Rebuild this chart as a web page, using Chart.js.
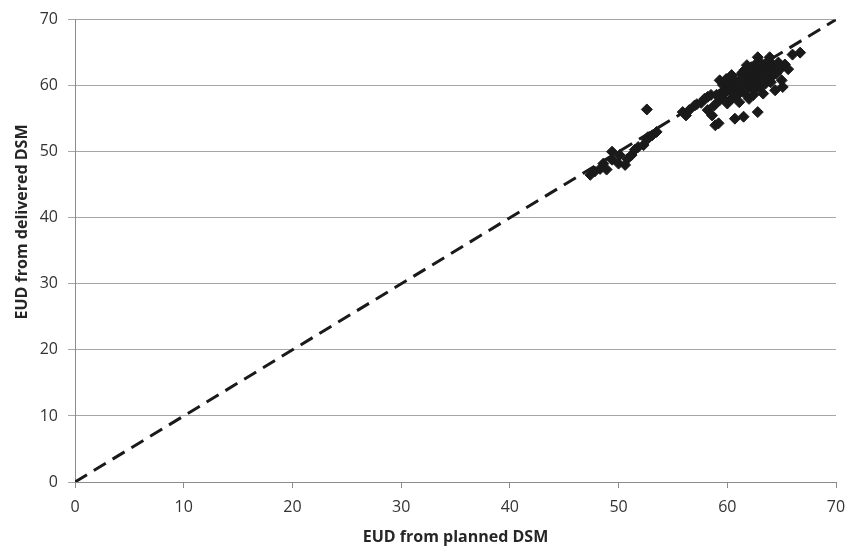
<!DOCTYPE html>
<html>
<head>
<meta charset="utf-8">
<script src="https://cdn.jsdelivr.net/npm/chart.js@4/dist/chart.umd.min.js"></script>
<style>
  body { margin: 0; background: #fff; }
  #wrap { width: 846px; height: 548px; }
</style>
</head>
<body>
<div id="wrap"><canvas id="myChart" width="846" height="548"></canvas></div>
<script>
// EUD values (planned vs delivered)
var planned = [
  47.4, 47.8, 48.3, 48.6, 48.9, 49.4, 49.4, 50.0, 50.1, 50.6, 50.8, 51.2, 51.5, 51.8, 52.3, 52.6, 52.7, 53.1, 53.5, 52.6,
  55.9, 56.2, 56.5, 57.0, 57.2, 57.6, 57.9, 58.2, 58.5, 58.2, 58.6, 58.9, 59.2, 59.3,
  58.8, 59.0, 59.3, 59.5, 59.7, 59.6, 60.0, 59.9, 60.2, 60.4, 60.3, 60.5, 60.6, 60.7, 60.8, 60.9,
  61.0, 61.1, 61.2, 61.3, 61.4, 61.5, 61.5, 61.6, 61.7, 61.8, 61.8, 61.9, 62.0, 62.0, 62.1, 62.2,
  62.3, 62.4, 62.5, 62.5, 62.6, 62.7, 62.8, 62.8, 62.8, 62.9, 63.0, 63.0, 63.1, 63.2, 63.3, 63.3,
  63.4, 63.5, 63.6, 63.7, 63.8, 63.9, 63.9, 64.0, 64.1, 64.2, 64.3, 64.4, 64.5, 64.7, 64.8, 65.0,
  65.1, 65.3, 65.6, 66.0, 66.7, 60.1, 60.4, 61.0, 61.3, 61.9, 62.3, 62.6, 63.1, 63.6, 64.0, 60.9,
  61.6, 62.2, 62.9, 63.4, 59.8, 60.6, 61.4, 62.4, 63.2, 63.8, 64.6, 60.0, 61.2, 62.0, 62.7, 63.5
];
var delivered = [
  46.5, 47.0, 47.4, 48.2, 47.3, 48.8, 50.0, 48.2, 49.5, 48.0, 48.9, 49.5, 50.3, 50.7, 51.0, 51.8, 52.2, 52.5, 53.0, 56.4,
  56.0, 55.5, 56.3, 57.0, 57.2, 57.4, 58.0, 58.3, 58.6, 56.3, 55.5, 54.0, 54.3, 60.8,
  57.0, 58.6, 57.8, 58.2, 59.0, 60.1, 57.3, 61.0, 59.5, 58.0, 60.3, 59.0, 61.0, 55.0, 59.8, 58.5,
  60.5, 57.5, 59.2, 61.7, 62.0, 55.3, 60.0, 58.8, 62.2, 63.1, 59.5, 60.8, 58.0, 61.4, 59.9, 62.3,
  60.6, 58.6, 61.8, 59.3, 63.0, 60.2, 56.0, 64.3, 61.2, 62.5, 59.8, 63.6, 60.9, 62.0, 58.8, 61.5,
  63.0, 60.3, 62.6, 61.0, 63.8, 64.3, 62.0, 60.5, 61.4, 63.1, 62.2, 59.3, 61.8, 63.5, 62.4, 60.8,
  59.8, 63.2, 62.5, 64.7, 65.0, 60.0, 61.6, 59.6, 60.2, 61.0, 61.6, 60.5, 61.8, 61.2, 62.8, 60.0,
  62.4, 62.8, 61.0, 62.2, 59.0, 59.6, 60.8, 61.2, 62.8, 62.6, 63.0, 59.2, 60.6, 60.3, 63.4, 61.8
];
var ticks = [0, 10, 20, 30, 40, 50, 60, 70];
var xTitle = 'EUD from planned DSM';
var yTitle = 'EUD from delivered DSM';

var points = [];
for (var i = 0; i < planned.length; i++) {
  points.push({ x: planned[i], y: delivered[i] });
}
var identity = [
  { x: ticks[0], y: ticks[0] },
  { x: ticks[ticks.length - 1], y: ticks[ticks.length - 1] }
];

var fontFam = "'Open Sans', 'Noto Sans', sans-serif";

// y axis title drawn by hand so it sits where the original has it
var yTitlePlugin = {
  id: 'yTitle',
  afterDraw: function(chart) {
    var ctx = chart.ctx;
    ctx.save();
    ctx.translate(22, 222);
    ctx.rotate(-Math.PI / 2);
    ctx.font = 'bold 16px ' + fontFam;
    ctx.fillStyle = '#262626';
    ctx.textAlign = 'center';
    ctx.textBaseline = 'middle';
    ctx.fillText(yTitle, 0, 0);
    ctx.restore();
  }
};

var chart = new Chart(document.getElementById('myChart'), {
  type: 'scatter',
  data: {
    datasets: [
      {
        label: 'EUD',
        data: points,
        pointStyle: 'rectRot',
        pointRadius: 5.5,
        pointHoverRadius: 5.5,
        borderWidth: 1,
        backgroundColor: '#1a1a1a',
        borderColor: '#1a1a1a',
        order: 1
      },
      {
        type: 'line',
        label: 'identity',
        data: identity,
        borderColor: '#1a1a1a',
        borderWidth: 3,
        borderDash: [14, 8],
        pointRadius: 0,
        fill: false,
        order: 2
      }
    ]
  },
  options: {
    responsive: false,
    animation: false,
    layout: { padding: { left: 0, right: 0, top: 17, bottom: 0 } },
    plugins: {
      legend: { display: false },
      tooltip: { enabled: false }
    },
    scales: {
      x: {
        type: 'linear',
        min: 0,
        max: 70,
        afterFit: function(scale) {
          scale.height = 66;
          scale.paddingLeft = 0;
          scale.paddingRight = 10;
        },
        afterBuildTicks: function(scale) { scale.ticks = ticks.map(function(v) { return { value: v }; }); },
        grid: { drawOnChartArea: false, drawTicks: true, tickLength: 6, color: '#8c8c8c' },
        border: { display: true, color: '#8c8c8c' },
        ticks: { font: { size: 16, family: fontFam }, color: '#333', padding: 10, maxRotation: 0 },
        title: {
          display: true,
          text: xTitle,
          font: { size: 16, weight: 'bold', family: fontFam },
          color: '#262626',
          padding: { top: 0, bottom: 1 }
        }
      },
      y: {
        type: 'linear',
        min: 0,
        max: 70,
        afterFit: function(scale) { scale.width = 75; },
        afterBuildTicks: function(scale) { scale.ticks = ticks.map(function(v) { return { value: v }; }); },
        grid: { drawOnChartArea: true, drawTicks: true, tickLength: 7, color: '#a6a6a6' },
        border: { display: true, color: '#8c8c8c' },
        ticks: { font: { size: 16, family: fontFam }, color: '#333', padding: 10 }
      }
    }
  },
  plugins: [yTitlePlugin]
});
</script>
</body>
</html>
